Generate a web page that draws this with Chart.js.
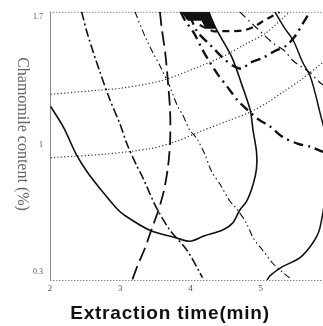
<!DOCTYPE html>
<html>
<head>
<meta charset="utf-8">
<script src="https://cdn.jsdelivr.net/npm/chart.js@4/dist/chart.umd.min.js"></script>
<style>
  html, body { margin: 0; padding: 0; background: #fff; overflow: hidden; }
  #wrap { width: 335px; height: 326px; }
</style>
</head>
<body>
<div id="wrap"><canvas id="chart" width="335" height="326"></canvas></div>
<script>
// Overlay contour plot: extraction time (x) vs chamomile content (y).
// Each contour is a list of [time, content] points.

const xTicks = [2, 3, 4, 5];
const yTicks = [0.3, 1, 1.7];

// solid contour, U shape
const solidInner = [
    [2.01, 1.21], [2.2, 1.09], [2.37, 0.95], [2.53, 0.85], [2.71, 0.76], [2.95, 0.65],
    [3.07, 0.61], [3.42, 0.53], [3.78, 0.49], [3.99, 0.47], [4.2, 0.5], [4.45, 0.53],
    [4.6, 0.57], [4.7, 0.64], [4.8, 0.69], [4.89, 0.78], [4.94, 0.87], [4.94, 0.96],
    [4.89, 1.08], [4.85, 1.19], [4.73, 1.33], [4.59, 1.48], [4.36, 1.64], [4.26, 1.73]
];
// solid contour, right side (bulges past the cropped edge)
const solidOuter = [
    [5.2, 1.73], [5.34, 1.64], [5.46, 1.575], [5.6, 1.45], [5.7, 1.38], [5.77, 1.29],
    [5.84, 1.18], [5.93, 1.04], [5.97, 0.91], [5.94, 0.77], [5.84, 0.54], [5.74, 0.46],
    [5.56, 0.38], [5.31, 0.33], [5.13, 0.28], [5.09, 0.257]
];
// dash-dot, left diagonal
const dashDotLeft = [
    [2.45, 1.73], [2.54, 1.6], [2.71, 1.4], [2.85, 1.25], [3.0, 1.11], [3.1, 1.0],
    [3.24, 0.88], [3.32, 0.82], [3.52, 0.65], [3.71, 0.53], [3.95, 0.42], [4.13, 0.3], [4.17, 0.27]
];
// long dash, near vertical
const longDashA = [
    [3.565, 1.73], [3.59, 1.64], [3.64, 1.505], [3.68, 1.34], [3.71, 1.18], [3.71, 1.02],
    [3.68, 0.88], [3.62, 0.745], [3.54, 0.636], [3.45, 0.54], [3.35, 0.43], [3.25, 0.34], [3.17, 0.257]
];
// long dash, from the optimum towards the top right
const longDashB = [
    [4.13, 1.657], [4.32, 1.624], [4.45, 1.624], [4.6, 1.624], [4.77, 1.629],
    [4.92, 1.651], [5.03, 1.678], [5.16, 1.706], [5.27, 1.73]
];
// dash-dot-dot, long diagonal
const dashDotDot = [
    [3.21, 1.73], [3.35, 1.597], [3.465, 1.505], [3.565, 1.434], [3.71, 1.315], [3.81, 1.217],
    [3.89, 1.163], [3.99, 1.081], [4.09, 1.033], [4.2, 0.951], [4.3, 0.853], [4.42, 0.783],
    [4.56, 0.691], [4.66, 0.647], [4.8, 0.566], [4.89, 0.49], [5.03, 0.419], [5.17, 0.349],
    [5.31, 0.3], [5.41, 0.268]
];
// heavy dash-dot, lower branch
const heavyDashLow = [
    [3.86, 1.73], [3.92, 1.684], [4.05, 1.613], [4.18, 1.515], [4.28, 1.45], [4.39, 1.385],
    [4.53, 1.315], [4.67, 1.244], [4.8, 1.195], [4.96, 1.141], [5.14, 1.098], [5.31, 1.043],
    [5.53, 1.005], [5.71, 0.989], [5.88, 0.962], [6.0, 0.95]
];
// heavy dash-dot, upper branch
const heavyDashHigh = [
    [3.99, 1.711], [4.09, 1.624], [4.25, 1.559], [4.32, 1.532], [4.49, 1.467], [4.63, 1.429],
    [4.73, 1.418], [4.85, 1.45], [5.03, 1.477], [5.2, 1.515], [5.36, 1.543], [5.49, 1.597],
    [5.6, 1.667], [5.7, 1.73]
];
// thin dash-dot, top right
const thinDashDot = [
    [4.7, 1.73], [4.87, 1.667], [4.99, 1.624], [5.17, 1.559], [5.34, 1.515], [5.46, 1.461],
    [5.6, 1.423], [5.7, 1.396], [5.84, 1.342], [6.0, 1.298]
];
// dotted contours
const dottedHigh = [
    [2.01, 1.277], [2.71, 1.3], [3.0, 1.31], [3.57, 1.35], [4.13, 1.43], [4.49, 1.49],
    [4.77, 1.55], [5.06, 1.61], [5.27, 1.68], [5.41, 1.73]
];
const dottedLow = [
    [2.01, 0.929], [2.71, 0.946], [3.42, 0.978], [3.78, 1.016], [4.13, 1.071], [4.49, 1.125],
    [4.85, 1.179], [5.1, 1.233], [5.31, 1.288], [5.56, 1.353], [5.88, 1.45], [6.0, 1.483]
];
// shaded optimum region
const optimum = [
    [3.88, 1.727], [4.26, 1.727], [4.36, 1.64], [4.22, 1.64], [4.16, 1.684], [3.96, 1.684], [3.88, 1.727]
];

const ink = '#111';

function contour(points, dash, width, color, tension) {
    return {
        data: points.map(([x, y]) => ({ x, y })),
        showLine: true,
        borderColor: color || ink,
        borderWidth: width,
        borderDash: dash,
        pointRadius: 0,
        tension: tension === undefined ? 0.3 : tension,
        fill: false
    };
}

const frame = {
    id: 'frame',
    beforeDatasetsDraw(chart) {
        const { ctx, chartArea: a } = chart;
        ctx.save();
        ctx.strokeStyle = '#8a8a8a';
        ctx.lineWidth = 1;
        ctx.beginPath();
        ctx.moveTo(a.left + 0.5, a.top);
        ctx.lineTo(a.left + 0.5, a.bottom + 1);
        ctx.stroke();
        ctx.setLineDash([1.5, 1.5]);
        ctx.beginPath();
        ctx.moveTo(a.left, a.top + 0.5);
        ctx.lineTo(a.right, a.top + 0.5);
        ctx.moveTo(a.left, a.bottom + 0.5);
        ctx.lineTo(a.right, a.bottom + 0.5);
        ctx.stroke();
        ctx.restore();
    },
    afterDraw(chart) {
        const ctx = chart.ctx;
        ctx.save();
        ctx.fillStyle = '#111';
        ctx.font = 'bold 19px "Liberation Sans", Arial, sans-serif';
        ctx.letterSpacing = '0.8px';
        ctx.textAlign = 'center';
        ctx.textBaseline = 'middle';
        ctx.fillText('Extraction time(min)', 170, 314);
        ctx.restore();

        ctx.save();
        ctx.fillStyle = '#666';
        ctx.font = '16px "Liberation Serif", serif';
        ctx.textAlign = 'center';
        ctx.textBaseline = 'middle';
        ctx.translate(22, 134);
        ctx.rotate(Math.PI / 2);
        ctx.fillText('Chamomile content (%)', 0, 0);
        ctx.restore();
    }
};

new Chart(document.getElementById('chart'), {
    type: 'scatter',
    data: {
        datasets: [
            { ...contour(optimum, [], 1, ink, 0), backgroundColor: ink, fill: 'shape' },
            contour(dottedHigh, [1.2, 2.2], 1.2, '#333'),
            contour(dottedLow, [1.2, 2.2], 1.2, '#333'),
            contour(solidInner, [], 1.6),
            contour(solidOuter, [], 1.5),
            contour(dashDotLeft, [9, 3, 2, 3], 1.6),
            contour(longDashA, [14, 6], 1.8),
            contour(longDashB, [7, 5], 2.2),
            contour(dashDotDot, [7, 3, 1.5, 3, 1.5, 3], 1.1),
            contour(heavyDashLow, [10, 5, 2, 5], 2.4),
            contour(heavyDashHigh, [10, 5, 2, 5], 2.4),
            contour(thinDashDot, [8, 4, 1.5, 4], 1.2)
        ]
    },
    options: {
        responsive: false,
        devicePixelRatio: 1,
        animation: false,
        layout: { padding: { top: 9, right: 4, left: 0, bottom: 0 } },
        plugins: {
            legend: { display: false },
            tooltip: { enabled: false }
        },
        scales: {
            x: {
                type: 'linear',
                min: 2,
                max: 6,
                grid: { display: false, drawTicks: false },
                border: { display: false },
                afterBuildTicks: (scale) => { scale.ticks = xTicks.map(v => ({ value: v })); },
                afterFit: (scale) => { scale.height = 46; },
                ticks: {
                    color: '#555',
                    padding: 3,
                    font: { family: '"Liberation Serif", serif', size: 9 },
                    callback: (v) => String(v)
                }
            },
            y: {
                type: 'linear',
                min: 0.257,
                max: 1.73,
                grid: { display: false, drawTicks: false },
                border: { display: false },
                afterBuildTicks: (scale) => { scale.ticks = yTicks.map(v => ({ value: v })); },
                afterFit: (scale) => { scale.width = 50; },
                ticks: {
                    color: '#555',
                    padding: 7,
                    font: { family: '"Liberation Serif", serif', size: 8 },
                    callback: (v) => String(v)
                }
            }
        }
    },
    plugins: [frame]
});
</script>
</body>
</html>
